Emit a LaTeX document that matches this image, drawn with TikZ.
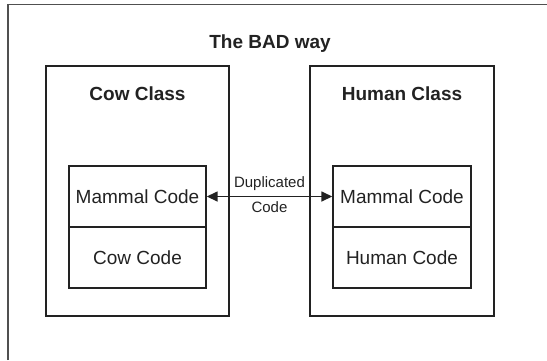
\documentclass[tikz,border=0pt]{standalone}
\usepackage{fontspec}
\setmainfont{Liberation Sans}
\usetikzlibrary{arrows.meta}
\definecolor{framecol}{HTML}{505050}
\definecolor{ink}{HTML}{222222}
\begin{document}
\begin{tikzpicture}[x=1pt,y=-1pt,
  classbox/.style={draw=ink,line width=1.6pt,inner sep=0pt,minimum height=250pt},
  codebox/.style={draw=ink,line width=1.4pt,inner sep=0pt,minimum height=61pt,text=ink,
    font=\fontsize{19}{19}\selectfont},
  heading/.style={anchor=base,text=ink,font=\fontsize{19}{19}\selectfont\bfseries},
  small/.style={text=ink,font=\fontsize{15}{15}\selectfont,anchor=base,inner sep=0pt},
  dup/.style={draw=ink,line width=1.5pt,{Triangle[length=11pt,width=10pt]}-{Triangle[length=11pt,width=10pt]}}]
\useasboundingbox (0,0) rectangle (547,360);
% outer frame (only top and left edges visible)
\draw[framecol,line width=1.8pt] (8,360) -- (8,4.5) -- (547,4.5);
% title
\node[heading] (title) at (270,48) {The BAD way};
% class boxes
\node[classbox,minimum width=183pt] (cow) at (137.5,191) {};
\node[classbox,minimum width=184pt] (human) at (402,191) {};
\node[heading] (cowt) at (137.5,100) {Cow Class};
\node[heading] (humant) at (402,100) {Human Class};
% code boxes
\node[codebox,minimum width=137pt] (cowmam) at (137.5,196.5) {Mammal Code};
\node[codebox,minimum width=137pt] (cowcode) at (137.5,257.5) {Cow Code};
\node[codebox,minimum width=138pt] (hummam) at (402,196.5) {Mammal Code};
\node[codebox,minimum width=138pt] (humcode) at (402,257.5) {Human Code};
% duplicated arrow
\draw[dup] (cowmam.east) -- (hummam.west)
  node[small,pos=0.5,yshift=8.7pt] (dupa) {Duplicated}
  node[small,pos=0.5,yshift=-15.7pt] (dupb) {Code};
\end{tikzpicture}
\end{document}
